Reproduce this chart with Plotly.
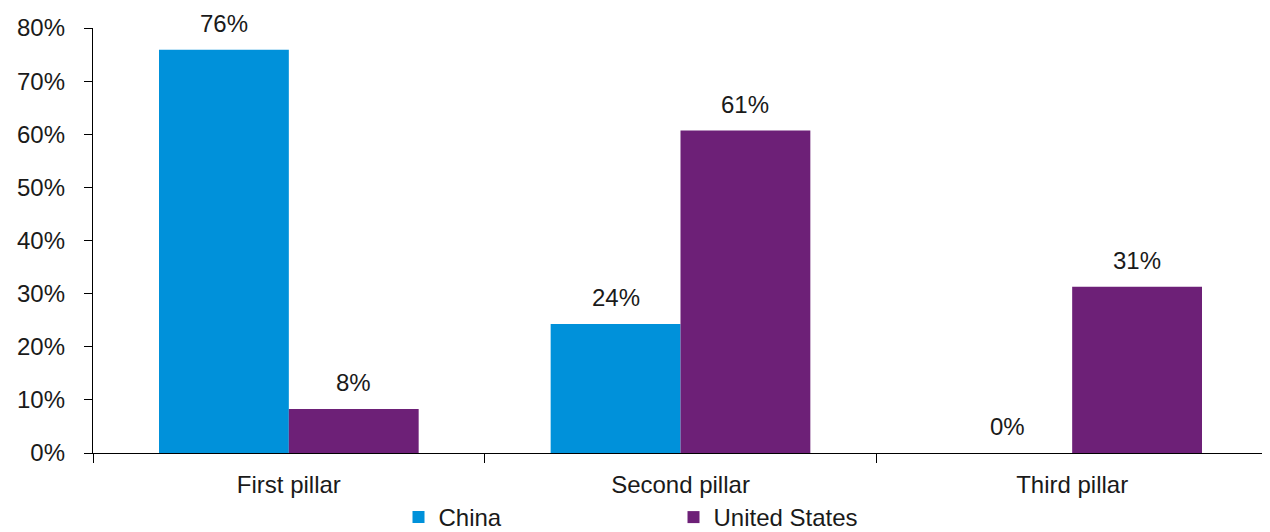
import plotly.graph_objects as go

categories = ["First pillar", "Second pillar", "Third pillar"]
china = [75.9, 24.3, 0.0]
united_states = [8.3, 60.7, 31.3]
series_names = ["China", "United States"]
colors = ["#0091DA", "#6D2077"]
y_ticks = [0, 10, 20, 30, 40, 50, 60, 70, 80]

FONT = "Liberation Sans, Arial, sans-serif"
TXT = "#1a1a1a"
FS = 24

fig = go.Figure()
for name, vals, col in zip(series_names, [china, united_states], colors):
    fig.add_trace(go.Bar(
        name=name, x=categories, y=vals, marker=dict(color=col, line=dict(width=0)),
    ))

bargap = 0.337
half = (1 - bargap) / 4
annotations = []
for si, vals in enumerate([china, united_states]):
    off = -half if si == 0 else half
    for ci, v in enumerate(vals):
        annotations.append(dict(
            x=ci + off, y=v, xref="x", yref="y", text=f"{round(v)}%",
            showarrow=False, yanchor="bottom", yshift=11,
            font=dict(family=FONT, size=FS, color=TXT),
        ))

fig.update_layout(
    width=1270, height=532,
    margin=dict(l=85, r=10, t=20, b=87),
    paper_bgcolor="white", plot_bgcolor="white",
    barmode="group", bargap=bargap, bargroupgap=0,
    font=dict(family=FONT, size=FS, color=TXT),
    showlegend=True,
    legend=dict(orientation="h", x=0.26, xanchor="left", xref="paper",
                y=-0.004, yanchor="bottom", yref="container",
                bgcolor="rgba(0,0,0,0)",
                entrywidth=230, entrywidthmode="pixels", itemwidth=30,
                font=dict(family=FONT, size=FS, color=TXT), itemclick=False),
    annotations=annotations,
)
fig.update_xaxes(
    showline=True, linecolor="black", linewidth=1.3, automargin=False,
    ticks="outside", tickson="boundaries", ticklen=9, tickcolor="black",
    ticklabelstandoff=10,
    showgrid=False, tickfont=dict(family=FONT, size=FS, color=TXT),
)
fig.update_yaxes(
    range=[0, 80], tickvals=y_ticks, ticktext=[f"{t}%" for t in y_ticks],
    showline=True, linecolor="black", linewidth=1.3, automargin=False,
    ticks="outside", ticklen=8, tickcolor="black", ticklabelstandoff=14,
    showgrid=False, zeroline=False, tickfont=dict(family=FONT, size=FS, color=TXT),
)

fig.write_html("out.html")
